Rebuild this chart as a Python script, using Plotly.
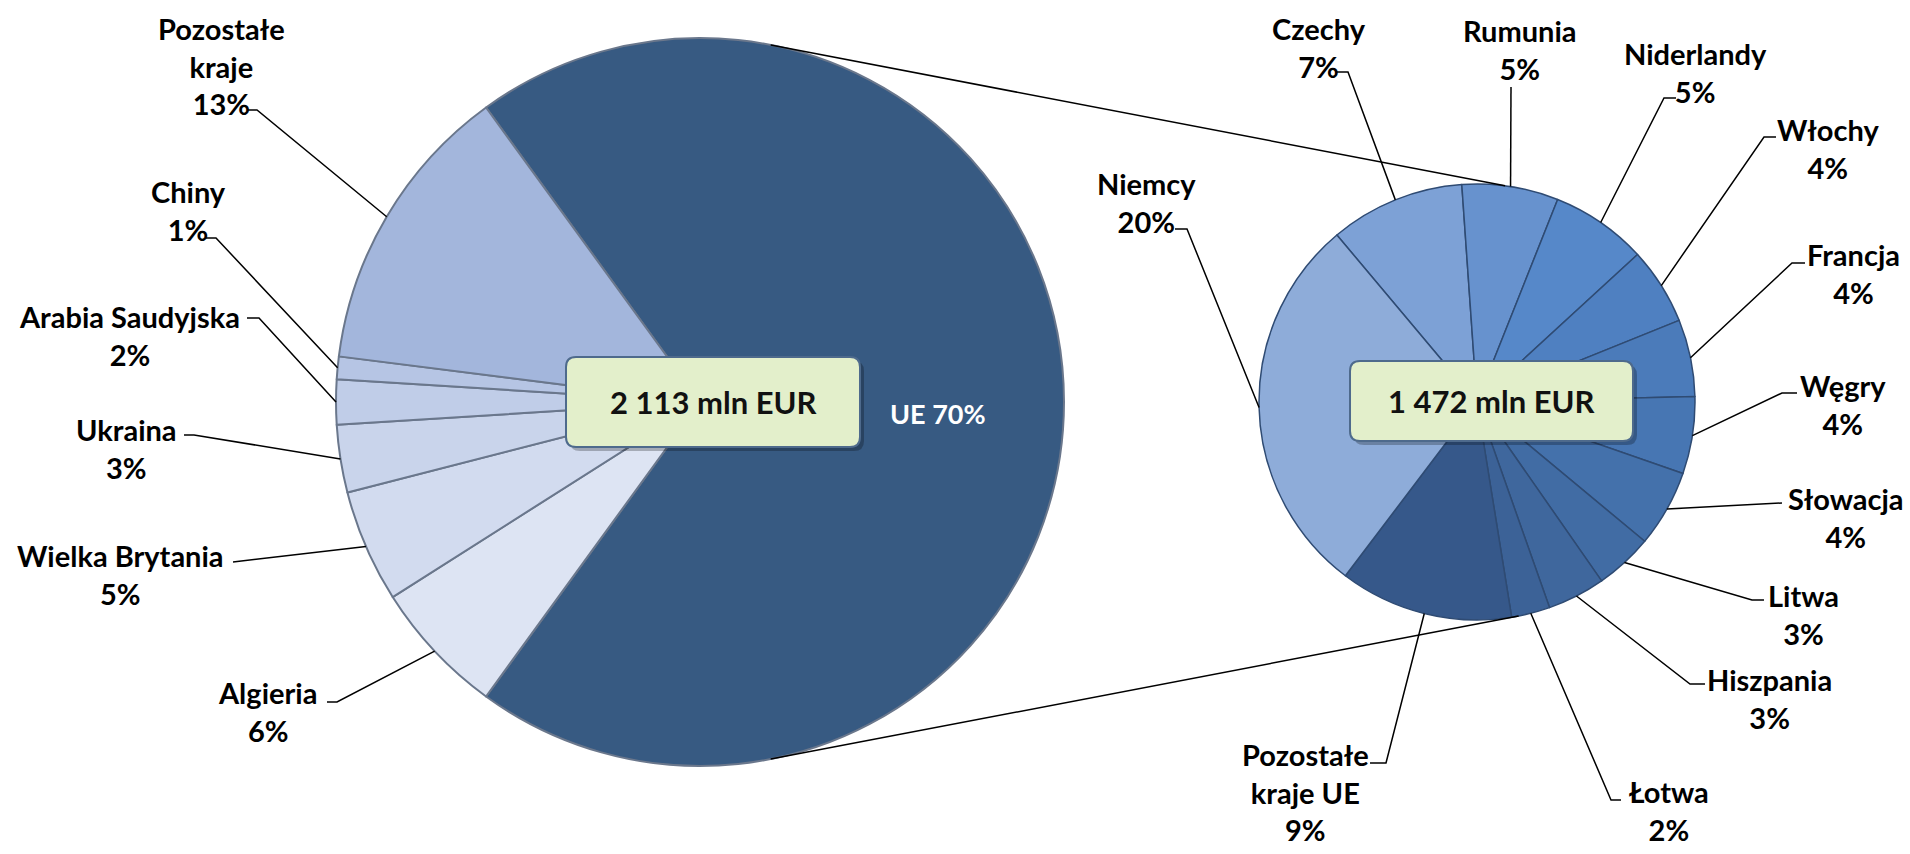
import math
import plotly.graph_objects as go

W, H = 1910, 854

# ---------------- data ----------------
world_labels = ["UE", "Algieria", "Wielka Brytania", "Ukraina",
                "Arabia Saudyjska", "Chiny", "Pozostałe kraje"]
world_values = [70, 6, 5, 3, 2, 1, 13]

eu_labels = ["Czechy", "Rumunia", "Niderlandy", "Włochy", "Francja", "Węgry",
             "Słowacja", "Litwa", "Hiszpania", "Łotwa", "Pozostałe kraje UE", "Niemcy"]
eu_values = [7, 5, 5, 4, 4, 4, 4, 3, 3, 2, 9, 20]

world_total = "2 113 mln EUR"
eu_total = "1 472 mln EUR"

# ---------------- styling / layout ----------------
world_colors = ["#375A82", "#DDE4F3", "#D2DBEF", "#C9D4EB",
                "#C0CDE8", "#B6C5E4", "#A3B6DC"]
eu_colors = ["#7DA1D6", "#6792CE", "#5688C9", "#4F80C1", "#4B7BBA", "#4776B3",
             "#4471AB", "#416CA4", "#3F679D", "#3C6297", "#36588A", "#8EACD9"]

LEFT = dict(cx=700, cy=402, r=364, rot=-36)
RIGHT = dict(cx=1477, cy=402, r=218, rot=-40)

line_breaks = {"Pozostałe kraje": "Pozostałe<br>kraje",
               "Pozostałe kraje UE": "Pozostałe<br>kraje UE"}

# label text centre (px) and leader waypoints (px) going outward from slice edge
world_label_pos = {
    "Algieria": ((267, 711), [(337, 702), (327, 702)]),
    "Wielka Brytania": ((120, 574), [(233, 562)]),
    "Ukraina": ((126, 448), [(194, 435), (184, 435)]),
    "Arabia Saudyjska": ((129, 335), [(259, 318), (247, 318)]),
    "Chiny": ((188, 211), [(216, 238), (206, 238)]),
    "Pozostałe kraje": ((221, 66), [(257, 110), (247, 110)]),
}
eu_label_pos = {
    "Czechy": ((1319, 48), [(1348, 72), (1337, 72)]),
    "Rumunia": ((1520, 50), [(1511, 87)]),
    "Niderlandy": ((1695, 73), [(1664, 98), (1676, 98)]),
    "Włochy": ((1828, 149), [(1764, 137), (1776, 137)]),
    "Francja": ((1853, 273), [(1792, 263), (1805, 263)]),
    "Węgry": ((1843, 404), [(1782, 393), (1797, 393)]),
    "Słowacja": ((1846, 517), [(1782, 503)]),
    "Litwa": ((1803, 614), [(1752, 600), (1764, 600)]),
    "Hiszpania": ((1769, 698), [(1690, 684), (1705, 684)]),
    "Łotwa": ((1669, 810), [(1611, 800), (1621, 800)]),
    "Pozostałe kraje UE": ((1305, 792), [(1386, 763), (1370, 763)]),
    "Niemcy": ((1146, 202), [(1187, 229), (1175, 229)]),
}
inside_label_pos = {"UE": (938, 413)}

FONT = "Lato"


def px(x, y):
    return x / W, 1 - y / H


def domain(p):
    return dict(x=[(p["cx"] - p["r"]) / W, (p["cx"] + p["r"]) / W],
                y=[1 - (p["cy"] + p["r"]) / H, 1 - (p["cy"] - p["r"]) / H])


def mid_angles(values, rot):
    tot = sum(values)
    out, cum = [], 0
    for v in values:
        out.append(rot + 360.0 * (cum + v / 2.0) / tot)
        cum += v
    return out


def edge_point(p, ang, k=1.0):
    a = math.radians(ang)
    return p["cx"] + k * p["r"] * math.sin(a), p["cy"] - k * p["r"] * math.cos(a)


def path_px(points, close=False):
    s = ""
    for i, (x, y) in enumerate(points):
        xp, yp = px(x, y)
        s += ("M" if i == 0 else " L") + f"{xp:.5f},{yp:.5f}"
    if close:
        s += " Z"
    return s


def rrect_path(x0, y0, x1, y1, rad):
    def P(x, y):
        a, b = px(x, y)
        return f"{a:.5f},{b:.5f}"
    return (f"M{P(x0 + rad, y0)} L{P(x1 - rad, y0)} Q{P(x1, y0)} {P(x1, y0 + rad)} "
            f"L{P(x1, y1 - rad)} Q{P(x1, y1)} {P(x1 - rad, y1)} "
            f"L{P(x0 + rad, y1)} Q{P(x0, y1)} {P(x0, y1 - rad)} "
            f"L{P(x0, y0 + rad)} Q{P(x0, y0)} {P(x0 + rad, y0)} Z")


fig = go.Figure()

fig.add_trace(go.Pie(
    labels=world_labels, values=world_values, sort=False, direction="clockwise",
    rotation=LEFT["rot"], textinfo="none", hoverinfo="label+percent",
    marker=dict(colors=world_colors, line=dict(color="#6A778C", width=2)),
    domain=domain(LEFT), showlegend=False, name="Świat"))

fig.add_trace(go.Pie(
    labels=eu_labels, values=eu_values, sort=False, direction="clockwise",
    rotation=RIGHT["rot"], textinfo="none", hoverinfo="label+value",
    marker=dict(colors=eu_colors, line=dict(color="#2F4B73", width=1.5)),
    domain=domain(RIGHT), showlegend=False, name="UE"))

shapes = []
annotations = []

label_font = dict(family=FONT, size=29, color="#000000", weight="bold")


def add_labels(p, labels, values, posmap):
    angs = mid_angles(values, p["rot"])
    for lab, val, ang in zip(labels, values, angs):
        if lab in posmap:
            (tx, ty), wps = posmap[lab]
            ex, ey = edge_point(p, ang)
            shapes.append(dict(type="path", xref="paper", yref="paper",
                               path=path_px([(ex, ey)] + wps),
                               line=dict(color="#000000", width=1.5)))
            xp, yp = px(tx, ty)
            text = line_breaks.get(lab, lab) + "<br>" + f"{val}%"
            annotations.append(dict(x=xp, y=yp, xref="paper", yref="paper",
                                    text=text, showarrow=False, xanchor="center",
                                    yanchor="middle", align="center", font=label_font))


add_labels(LEFT, world_labels, world_values, world_label_pos)
add_labels(RIGHT, eu_labels, eu_values, eu_label_pos)

# inside label for UE
for lab, val in zip(world_labels, world_values):
    if lab in inside_label_pos:
        tx, ty = inside_label_pos[lab]
        xp, yp = px(tx, ty)
        annotations.append(dict(x=xp, y=yp, xref="paper", yref="paper",
                                text=f"{lab} {val}%", showarrow=False,
                                xanchor="center", yanchor="middle",
                                font=dict(family=FONT, size=27, color="#FFFFFF", weight="bold")))

# connector lines between the pies
conn_left = [11.2, 168.8]
conn_right = [7.4, 169.0]
for al, ar in zip(conn_left, conn_right):
    p1 = edge_point(LEFT, al)
    p2 = edge_point(RIGHT, ar)
    shapes.append(dict(type="path", xref="paper", yref="paper",
                       path=path_px([p1, p2]), line=dict(color="#000000", width=1.5)))

# total boxes
boxes = [((566, 357, 860, 447), world_total), ((1350, 361, 1633, 441), eu_total)]
for (x0, y0, x1, y1), txt in boxes:
    shapes.append(dict(type="path", xref="paper", yref="paper",
                       path=rrect_path(x0 + 4, y0 + 4, x1 + 4, y1 + 4, 10),
                       fillcolor="rgba(0,0,0,0.25)", line=dict(width=0)))
    shapes.append(dict(type="path", xref="paper", yref="paper",
                       path=rrect_path(x0, y0, x1, y1, 10),
                       fillcolor="#E3EFCB", line=dict(color="#4E6A8C", width=2)))
    xp, yp = px((x0 + x1) / 2, (y0 + y1) / 2)
    annotations.append(dict(x=xp, y=yp, xref="paper", yref="paper", text=txt,
                            showarrow=False, xanchor="center", yanchor="middle",
                            font=dict(family=FONT, size=31, color="#111111", weight="bold")))

fig.update_layout(
    width=W, height=H,
    margin=dict(l=0, r=0, t=0, b=0),
    paper_bgcolor="#FFFFFF", plot_bgcolor="#FFFFFF",
    shapes=shapes, annotations=annotations,
    showlegend=False,
)

fig.write_html("out.html",
               config={"displayModeBar": False},
               post_script="document.body.style.margin='0';"
                           "document.body.style.overflow='hidden';")
